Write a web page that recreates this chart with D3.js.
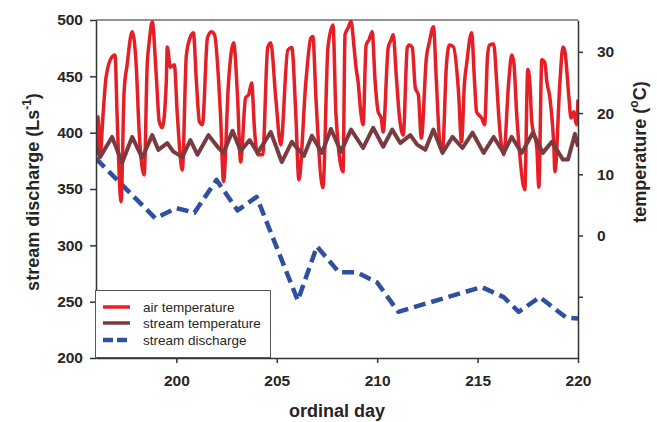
<!DOCTYPE html>
<html>
<head>
<meta charset="utf-8">
<script src="https://cdn.jsdelivr.net/npm/d3@7"></script>
<style>
  body { margin: 0; background: #fff; }
  svg { display: block; }
  text { font-family: "Liberation Sans", Arial, sans-serif; }
</style>
</head>
<body>
<svg id="chart" width="657" height="422"></svg>
<script>
// Stream discharge (L s-1) by ordinal day
const dischargeDays = [196, 198.95, 200, 200.9, 202, 203.05, 204, 206.05, 207, 208.1, 209, 210, 211.05, 215.2, 216.3, 217.05, 218.1, 219.4, 220];
const dischargeValues = [377, 324, 333, 329, 358, 331, 343, 251, 299, 276, 276, 267, 241, 263, 254, 241, 254, 236, 235];

// Air temperature (°C)
const airDays = [196.00,196.10,196.20,196.35,196.50,196.80,196.95,197.05,197.25,197.40,
  197.55,197.80,198.00,198.15,198.40,198.55,198.65,198.80,199.00,199.15,
  199.30,199.50,199.55,199.70,199.90,200.05,200.30,200.50,200.75,200.85,
  201.00,201.15,201.30,201.55,201.75,201.90,202.20,202.35,202.60,202.85,
  203.05,203.20,203.45,203.60,203.75,203.90,204.05,204.30,204.55,204.70,
  204.95,205.20,205.55,205.75,205.95,206.10,206.45,206.70,206.80,206.95,
  207.30,207.55,207.80,207.95,208.30,208.40,208.55,208.70,208.85,208.95,
  209.05,209.20,209.30,209.45,209.60,209.75,209.90,210.05,210.20,210.30,
  210.55,210.70,210.80,210.95,211.10,211.30,211.50,211.60,211.75,211.90,
  212.05,212.20,212.45,212.60,212.80,212.95,213.10,213.25,213.45,213.60,
  213.80,214.05,214.20,214.35,214.45,214.70,214.85,214.95,215.20,215.35,
  215.50,215.60,215.80,215.95,216.05,216.30,216.55,216.70,216.80,216.95,
  217.10,217.35,217.50,217.60,217.70,217.95,218.05,218.20,218.35,218.45,
  218.60,218.80,218.85,219.10,219.25,219.35,219.55,219.65,219.80,219.92,
  220.00];
const airTemps = [14.0,19.4,12.8,19.7,25.8,29.2,29.5,19.7,5.5,23.5,
  27.9,33.3,27.9,16.9,9.9,27.9,31.6,34.9,26.2,18.6,
  17.6,25.1,30.8,27.5,27.9,19.7,10.7,29.5,32.8,33.1,
  25.1,18.6,18.1,32.3,33.3,32.8,19.7,8.8,25.1,31.5,
  22.5,12.0,22.5,23.0,24.9,16.9,13.2,13.2,30.7,31.5,
  22.5,14.8,30.3,30.7,19.7,9.1,25.1,32.3,32.5,22.5,
  7.8,30.7,34.4,19.7,10.4,32.8,33.9,35.0,30.7,27.4,
  25.1,19.7,18.1,31.1,32.0,33.3,25.1,20.2,19.2,16.9,
  30.7,32.0,32.8,26.2,19.7,16.4,30.7,31.1,30.7,24.1,
  23.0,15.9,29.0,31.6,34.1,25.1,15.9,13.7,27.9,31.1,
  30.8,23.5,15.3,25.1,27.9,33.1,25.1,20.2,19.2,18.1,
  29.5,31.1,31.3,25.1,19.7,13.2,25.1,29.5,28.4,19.7,
  13.2,7.5,27.1,25.1,18.6,14.3,7.9,28.7,28.2,25.1,
  22.5,14.3,10.4,25.1,30.8,30.0,22.5,19.2,20.2,18.1,
  22.2];

// Stream temperature (°C)
const streamDays = [196.0,196.2,196.8,197.3,197.8,198.3,198.8,199.1,199.55,199.85,
  200.3,200.7,201.05,201.6,202.05,202.35,202.8,203.2,203.65,204.05,
  204.7,205.25,205.75,206.35,206.75,207.25,207.7,208.2,208.7,209.3,
  209.8,210.3,210.75,211.15,211.65,212.0,212.4,212.8,213.25,213.75,
  214.25,214.75,215.3,215.8,216.3,216.7,217.2,217.75,218.25,218.7,
  219.25,219.5,219.85,220.0];
const streamTemps = [14.6,12.8,16.1,11.9,16.1,12.7,16.4,14.0,15.1,13.7,
  12.8,15.6,13.2,16.4,14.5,13.5,17.1,13.8,15.6,13.5,
  16.9,12.0,15.3,13.0,16.3,13.5,17.4,13.7,17.3,14.3,
  17.6,14.5,17.3,15.1,16.4,14.8,14.0,17.3,13.5,16.1,
  14.3,16.8,13.5,16.1,13.5,16.1,13.5,16.8,13.5,15.3,
  12.4,12.4,16.6,14.5];

const dayTicks = [200, 205, 210, 215, 220];
const dischargeTicks = [200, 250, 300, 350, 400, 450, 500];
const tempTicks = [-10, 0, 10, 20, 30];
const seriesNames = ["air temperature", "stream temperature", "stream discharge"];
const seriesColors = ["#e61e26", "#7a3a3e", "#2f4fa0"];

const svg = d3.select("#chart");
const box = { left: 96, right: 578, top: 20, bottom: 358 };

const x = d3.scaleLinear().domain([196, 220]).range([box.left, box.right]);
const yQ = d3.scaleLinear().domain([200, 500]).range([box.bottom, box.top]);
const yT = d3.scaleLinear().domain([-20, 35.2]).range([box.bottom, box.top]);

svg.append("defs").append("clipPath").attr("id", "plot-clip")
  .append("rect")
  .attr("x", box.left).attr("y", box.top - 2)
  .attr("width", box.right - box.left).attr("height", box.bottom - box.top + 2);

// frame top edge
svg.append("line")
  .attr("x1", box.left).attr("x2", box.right)
  .attr("y1", box.top).attr("y2", box.top)
  .attr("stroke", "#6e6e6e").attr("stroke-width", 1.5);

const plot = svg.append("g").attr("clip-path", "url(#plot-clip)");

const dischargeLine = d3.line().x((d, i) => x(dischargeDays[i])).y(d => yQ(d));
const airLine = d3.line().curve(d3.curveMonotoneX).x((d, i) => x(airDays[i])).y(d => yT(d));
const streamLine = d3.line().x((d, i) => x(streamDays[i])).y(d => yT(d));

plot.append("path").datum(dischargeValues)
  .attr("d", dischargeLine)
  .attr("fill", "none").attr("stroke", seriesColors[2])
  .attr("stroke-width", 4.5).attr("stroke-dasharray", "12,6")
  .attr("stroke-linejoin", "round");

plot.append("path").datum(airTemps)
  .attr("d", airLine)
  .attr("fill", "none").attr("stroke", seriesColors[0])
  .attr("stroke-width", 3.5).attr("stroke-linejoin", "round");

plot.append("path").datum(streamTemps)
  .attr("d", streamLine)
  .attr("fill", "none").attr("stroke", seriesColors[1])
  .attr("stroke-width", 4).attr("stroke-linejoin", "round");

// axes
function styleAxis(g) {
  g.selectAll("path.domain").attr("stroke", "#333").attr("stroke-width", 1.5);
  g.selectAll(".tick line").attr("stroke", "#333").attr("stroke-width", 1.5);
  g.selectAll(".tick text")
    .attr("fill", "#262626")
    .style("font-family", "'Liberation Sans', Arial, sans-serif")
    .style("font-size", "15.5px").style("font-weight", "bold");
}

svg.append("g")
  .attr("transform", `translate(${box.left},0)`)
  .call(d3.axisLeft(yQ).tickValues(dischargeTicks).tickSize(6).tickSizeOuter(0).tickPadding(7))
  .call(styleAxis);

svg.append("g")
  .attr("transform", `translate(${box.right},0)`)
  .call(d3.axisRight(yT).tickValues(tempTicks).tickFormat(d => d >= 0 ? d : "")
    .tickSize(5).tickSizeOuter(0).tickPadding(14))
  .call(styleAxis);

svg.append("g")
  .attr("transform", `translate(0,${box.bottom})`)
  .call(d3.axisBottom(x).tickValues(dayTicks).tickSize(5).tickSizeOuter(0).tickPadding(12))
  .call(styleAxis);

// axis titles
const titleStyle = t => t.attr("fill", "#262626")
  .style("font-size", "18px").style("font-weight", "bold");

const leftTitle = svg.append("text")
  .attr("transform", "translate(39,192) rotate(-90)")
  .attr("text-anchor", "middle")
  .call(titleStyle);
leftTitle.append("tspan").text("stream discharge (Ls");
leftTitle.append("tspan").attr("dy", -8).style("font-size", "12px").text("-1");
leftTitle.append("tspan").attr("dy", 8).text(")");

const rightTitle = svg.append("text")
  .attr("transform", "translate(646,152) rotate(-90)")
  .attr("text-anchor", "middle")
  .call(titleStyle);
rightTitle.append("tspan").text("temperature (");
rightTitle.append("tspan").attr("dy", -8).style("font-size", "12px").text("o");
rightTitle.append("tspan").attr("dy", 8).text("C)");

svg.append("text")
  .attr("x", 337).attr("y", 417)
  .attr("text-anchor", "middle")
  .call(titleStyle)
  .text("ordinal day");

// legend
const legend = svg.append("g");
legend.append("rect")
  .attr("x", 95.5).attr("y", 290.5).attr("width", 175).attr("height", 67)
  .attr("fill", "#fff").attr("stroke", "#555").attr("stroke-width", 1);

const rowY = [307, 323, 340];
seriesNames.forEach((name, i) => {
  const ln = legend.append("line")
    .attr("x1", 103).attr("x2", 130)
    .attr("y1", rowY[i]).attr("y2", rowY[i])
    .attr("stroke", seriesColors[i])
    .attr("stroke-width", i === 2 ? 4.5 : 3.5);
  if (i === 2) ln.attr("stroke-dasharray", "10,4");
  legend.append("text")
    .attr("x", 143).attr("y", rowY[i] + 4.5)
    .attr("fill", "#262626")
    .style("font-size", "13.5px")
    .text(name);
});
</script>
</body>
</html>
